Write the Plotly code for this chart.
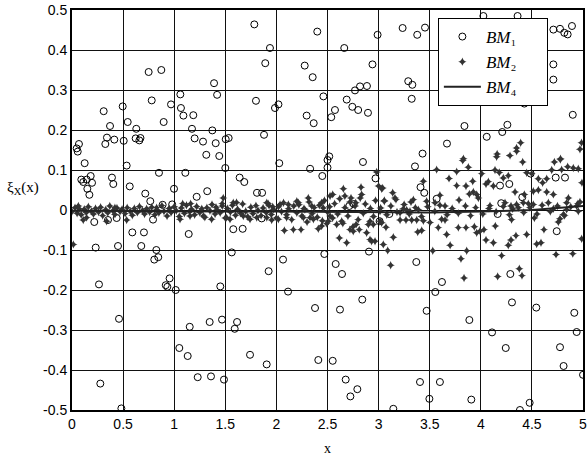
import plotly.graph_objects as go

# ---- data ----
x_ticks = [0, 0.5, 1, 1.5, 2, 2.5, 3, 3.5, 4, 4.5, 5]
x_tick_labels = ["0", "0.5", "1", "1.5", "2", "2.5", "3", "3.5", "4", "4.5", "5"]
y_ticks = [0.5, 0.4, 0.3, 0.2, 0.1, 0, -0.1, -0.2, -0.3, -0.4, -0.5]
y_tick_labels = ["0.5", "0.4", "0.3", "0.2", "0.1", "0", "-0.1", "-0.2", "-0.3", "-0.4", "-0.5"]
series_names = ["<i>BM</i>\u2081", "<i>BM</i>\u2082", "<i>BM</i>\u2084"]

bm1_points = [
    (0.75, 0.345), (0.874, 0.35), (0.78, 0.274), (0.969, 0.264), (1.06, 0.289), (1.066, 0.255),
    (1.09, 0.236), (1.187, 0.237), (1.174, 0.203), (1.2, 0.179), (0.31, 0.247), (0.496, 0.259),
    (0.372, 0.21), (0.545, 0.22), (0.629, 0.203), (0.897, 0.22), (0.342, 0.181), (0.414, 0.176),
    (0.326, 0.165), (0.506, 0.173), (0.623, 0.179), (0.659, 0.174), (0.67, 0.18), (0.068, 0.165),
    (0.046, 0.154), (0.056, 0.146),
    (1.784, 0.464), (1.937, 0.405), (1.891, 0.367), (2.4, 0.446), (2.664, 0.405), (2.99, 0.438),
    (2.94, 0.364), (2.277, 0.361), (2.355, 0.332), (1.39, 0.317), (1.42, 0.288), (1.8, 0.273),
    (1.986, 0.255), (2.02, 0.264), (2.46, 0.284), (2.688, 0.276), (2.769, 0.299), (2.818, 0.309),
    (2.886, 0.31), (2.743, 0.258), (2.8, 0.25), (2.896, 0.243), (2.573, 0.25), (2.537, 0.232),
    (2.296, 0.236), (2.365, 0.217), (1.282, 0.171), (1.373, 0.199), (1.406, 0.167), (1.504, 0.177),
    (1.533, 0.18), (1.879, 0.188), (1.314, 0.138), (1.441, 0.135), (2.517, 0.134), (2.5, 0.125),
    (2.847, 0.12),
    (3.235, 0.455), (3.378, 0.438), (3.454, 0.456), (4.025, 0.485), (4.36, 0.485), (4.775, 0.453),
    (4.817, 0.443), (4.85, 0.439), (4.892, 0.46), (4.71, 0.451), (3.29, 0.322), (3.33, 0.313),
    (3.324, 0.278), (4.71, 0.364), (4.71, 0.326), (4.426, 0.266), (4.9, 0.238), (3.84, 0.21),
    (4.26, 0.213), (4.21, 0.195), (4.058, 0.183), (3.669, 0.166), (3.43, 0.141),
    (0.124, 0.117), (0.535, 0.111), (0.851, 0.093), (1.109, 0.093), (0.091, 0.076), (0.11, 0.07),
    (0.144, 0.076), (0.183, 0.085), (0.196, 0.068), (0.15, 0.053), (0.17, 0.038), (0.391, 0.081),
    (0.404, 0.065), (0.565, 0.059), (0.717, 0.041), (0.766, 0.022), (0.998, 0.053), (1.22, 0.033),
    (0.887, 0.013), (0.98, 0.014), (0.793, -0.024), (0.218, -0.03), (0.352, -0.025), (0.437, -0.02),
    (0.59, -0.056), (0.704, -0.056), (1.142, -0.06), (0.232, -0.094), (0.45, -0.09), (0.678, -0.09),
    (0.825, -0.1), (0.805, -0.124), (0.844, -0.118), (0.264, -0.186), (0.917, -0.188),
    (0.933, -0.192), (0.955, -0.171), (1.015, -0.2),
    (1.5, 0.105), (2.028, 0.117), (2.33, 0.103), (2.5, 0.106), (2.449, 0.085), (2.97, 0.079),
    (1.323, 0.047), (1.64, 0.081), (1.686, 0.07), (1.81, 0.043), (1.86, 0.043), (2.713, 0.01),
    (2.756, 0.015), (1.856, -0.021), (1.578, -0.048), (1.67, -0.047), (3.01, -0.028),
    (1.563, -0.106), (2.065, -0.124), (2.469, -0.11), (2.906, -0.104), (2.58, -0.135),
    (2.642, -0.16), (1.924, -0.153), (1.451, -0.191), (2.114, -0.204), (2.84, -0.224),
    (2.378, -0.245), (2.622, -0.249),
    (3.356, 0.109), (3.41, 0.057), (3.447, 0.043), (3.568, 0.028), (4.188, 0.061), (4.279, 0.065),
    (4.406, 0.032), (4.2, 0.017), (4.488, 0.091), (4.733, 0.081), (4.824, 0.081), (4.165, -0.01),
    (3.105, -0.01), (4.743, -0.053), (3.369, -0.13), (4.289, -0.16), (3.62, -0.18), (3.555, -0.205),
    (4.305, -0.231), (4.543, -0.244),
    (0.46, -0.272), (1.152, -0.292), (1.05, -0.345), (1.132, -0.365), (1.23, -0.418),
    (0.277, -0.434), (0.483, -0.496),
    (1.347, -0.28), (1.468, -0.274), (1.615, -0.28), (1.592, -0.297), (1.742, -0.362),
    (1.905, -0.386), (1.36, -0.416), (1.487, -0.424), (2.41, -0.375), (2.551, -0.377),
    (2.678, -0.424), (2.792, -0.448), (2.724, -0.466),
    (3.47, -0.252), (3.888, -0.275), (4.915, -0.257), (4.938, -0.305), (4.11, -0.306),
    (4.244, -0.345), (4.775, -0.343), (4.81, -0.39), (5.0, -0.412), (3.405, -0.43), (3.6, -0.43),
    (3.497, -0.472), (3.907, -0.474), (4.478, -0.482), (4.383, -0.5), (3.144, -0.497),
]

# BM2: dense band close to zero
bm2_band = [
    (0.00, -0.004), (0.03, 0.006), (0.05, -0.008), (0.07, 0.003), (0.09, -0.012), (0.12, 0.002),
    (0.14, -0.006), (0.16, 0.008), (0.19, -0.003), (0.21, -0.010), (0.23, 0.004), (0.26, -0.005),
    (0.28, 0.007), (0.30, -0.014), (0.33, 0.001), (0.35, -0.007), (0.37, 0.010), (0.40, -0.002),
    (0.42, -0.011), (0.44, 0.005), (0.47, -0.004), (0.49, 0.002), (0.52, -0.009), (0.54, 0.006),
    (0.57, -0.003), (0.59, -0.013), (0.61, 0.004), (0.64, -0.006), (0.66, 0.009), (0.69, -0.001),
    (0.71, -0.010), (0.73, 0.003), (0.76, -0.005), (0.78, 0.007), (0.81, -0.012), (0.83, 0.001),
    (0.85, -0.007), (0.88, 0.011), (0.90, -0.003), (0.93, -0.015), (0.95, 0.004), (0.97, -0.006),
    (1.00, 0.008), (1.02, -0.002), (1.05, -0.016), (1.07, 0.005), (1.10, -0.008), (1.12, 0.012),
    (1.15, -0.004), (1.17, 0.002), (1.20, -0.012), (1.22, 0.009), (1.25, -0.006), (1.27, 0.003),
    (1.30, -0.018), (1.32, 0.006), (1.35, -0.002), (1.37, 0.014), (1.40, -0.010), (1.42, 0.001),
    (1.45, -0.007), (1.47, 0.010), (1.50, -0.020), (1.52, 0.004), (1.55, -0.005), (1.57, 0.012),
    (1.60, -0.013), (1.62, 0.002), (1.65, -0.008), (1.67, 0.015), (1.70, -0.003), (1.72, -0.017),
    (1.75, 0.007), (1.77, -0.009), (1.80, 0.011), (1.82, -0.001), (1.85, -0.014), (1.87, 0.005),
    (1.90, -0.006), (1.92, 0.016), (1.95, -0.011), (1.97, 0.002), (2.00, -0.020), (2.02, 0.008),
    (2.05, -0.004), (2.07, 0.018), (2.10, -0.012), (2.12, 0.003), (2.15, -0.024), (2.17, 0.010),
    (2.20, -0.007), (2.22, 0.013), (2.25, -0.015), (2.27, 0.004), (2.30, -0.030), (2.32, 0.020),
    (2.35, -0.009), (2.37, 0.006), (2.40, -0.018), (2.42, 0.012), (2.45, -0.027), (2.47, 0.024),
    (2.50, -0.005), (2.52, 0.008), (2.55, -0.020), (2.57, 0.016), (2.60, -0.010), (2.62, 0.028),
    (2.65, -0.033), (2.67, 0.006), (2.70, -0.015), (2.72, 0.020), (2.75, -0.042), (2.77, 0.010),
    (2.80, -0.024), (2.82, 0.030), (2.85, -0.008), (2.87, 0.015), (2.90, -0.036), (2.92, 0.004),
    (2.95, -0.016), (2.97, 0.024),
    (3.02, 0.005), (3.08, -0.012), (3.12, 0.010), (3.18, -0.005), (3.25, 0.014), (3.30, -0.010),
    (3.36, 0.006), (3.42, -0.016), (3.48, 0.008), (3.55, -0.003), (3.60, 0.012), (3.67, -0.012),
    (3.72, 0.004), (3.78, -0.008), (3.85, 0.010), (3.90, -0.014), (3.95, 0.006), (4.02, -0.010),
    (4.08, 0.004), (4.15, -0.004), (4.22, 0.009), (4.28, -0.012), (4.35, 0.014), (4.42, -0.006),
    (4.48, 0.006), (4.55, -0.010), (4.60, 0.012), (4.68, -0.004), (4.75, 0.010), (4.82, -0.014),
    (4.88, 0.008), (4.95, 0.016),
]

# BM2: scattered points that leave the band
bm2_spread = [
    (0.11, -0.025), (0.013, -0.086), (0.062, 0.01), (0.42, 0.006), (1.083, 0.016), (1.161, 0.016),
    (0.828, 0.006), (0.535, -0.025), (0.339, -0.028), (1.057, -0.023), (0.143, -0.019),
    (2.981, 0.095), (3.0, 0.06), (3.03, 0.053), (3.056, 0.024), (2.828, 0.057), (2.834, 0.039),
    (2.655, 0.053), (2.73, 0.03), (2.551, 0.039), (2.525, 0.035), (2.67, 0.035), (2.776, 0.018),
    (2.312, 0.03), (2.2, 0.022), (2.215, 0.018), (2.117, 0.014), (2.036, 0.014), (1.906, 0.018),
    (1.928, 0.011), (1.964, 0.008), (1.48, 0.03), (1.47, 0.016), (1.578, 0.018), (1.61, 0.019),
    (1.409, 0.007), (2.443, 0.018), (2.459, 0.005), (2.346, 0.01), (2.279, 0.001),
    (2.525, -0.015), (2.59, -0.036), (2.639, -0.028), (2.616, -0.07), (2.688, -0.082),
    (2.78, -0.036), (2.72, -0.049), (2.752, -0.053), (2.811, -0.049), (2.883, -0.057),
    (2.916, -0.074), (2.932, -0.078), (2.965, -0.078), (2.916, -0.028), (2.948, -0.036),
    (2.078, -0.051), (2.166, -0.049), (2.241, -0.049), (2.264, -0.019), (2.329, -0.019),
    (2.362, -0.023), (2.41, -0.047), (2.443, -0.04), (2.492, -0.034), (2.508, -0.028),
    (2.1, -0.019), (2.019, -0.023), (1.954, -0.025), (1.906, -0.019), (1.808, -0.019),
    (1.742, -0.023), (1.676, -0.015), (1.546, -0.023), (1.513, -0.019), (1.366, -0.023),
    (1.285, -0.015), (1.155, -0.015),
    (4.155, 0.133), (4.286, 0.136), (4.351, 0.147), (4.41, 0.12), (4.72, 0.12), (4.778, 0.126),
    (3.823, 0.124), (3.878, 0.107), (3.568, 0.101), (3.764, 0.096), (4.009, 0.091), (4.139, 0.1),
    (4.181, 0.094), (4.22, 0.08), (4.269, 0.086), (4.449, 0.093), (4.498, 0.091), (4.563, 0.078),
    (4.605, 0.068), (4.645, 0.078), (4.694, 0.1), (4.791, 0.101), (4.85, 0.108), (4.905, 0.105),
    (4.954, 0.103), (4.99, 0.068), (3.689, 0.079), (3.764, 0.061), (3.855, 0.06), (3.921, 0.072),
    (4.051, 0.065), (4.074, 0.071), (4.123, 0.06), (4.335, 0.045), (4.426, 0.039), (4.416, 0.018),
    (4.514, 0.047), (4.563, 0.05), (4.645, 0.045), (4.71, 0.039), (4.857, 0.03), (4.84, 0.018),
    (4.938, 0.01), (4.97, 0.02), (3.438, 0.072), (3.34, 0.026), (3.317, 0.02), (3.16, 0.03),
    (3.17, 0.026), (3.138, 0.043), (3.056, 0.022), (3.04, 0.055), (3.47, 0.022), (3.6, 0.037),
    (3.552, 0.018), (3.65, 0.01), (3.787, 0.025), (3.888, 0.04), (3.927, 0.045), (3.96, 0.039),
    (3.976, 0.03), (4.09, 0.011), (4.237, 0.018), (4.296, 0.01), (4.368, 0.006), (4.465, 0.016),
    (4.514, 0.014), (4.661, 0.018), (4.71, 0.003), (4.84, 0.001), (4.954, -0.003),
    (4.524, -0.02), (4.775, -0.022), (4.808, -0.011), (4.759, -0.03), (4.302, -0.024),
    (4.142, -0.04), (4.312, 0.003), (3.21, -0.007), (3.242, 0.003), (3.275, 0.0), (3.307, -0.003),
    (3.389, 0.001), (3.21, -0.025), (3.268, -0.025), (3.324, -0.025), (3.373, -0.025),
    (3.438, -0.027), (3.503, -0.031), (3.584, -0.044), (3.617, -0.023), (3.65, -0.025),
    (3.78, -0.044), (3.855, -0.044), (3.937, -0.042), (3.96, -0.057), (3.992, -0.053),
    (4.031, -0.049), (3.383, -0.055), (3.422, -0.051), (3.014, -0.028), (3.03, -0.032),
    (3.072, -0.043), (3.144, -0.068), (3.046, -0.086), (3.089, -0.101), (3.118, -0.138),
    (3.53, -0.102), (3.7, -0.088), (3.666, -0.061), (3.806, -0.122), (3.862, -0.102),
    (4.051, -0.075), (4.123, -0.082), (4.269, -0.088), (4.296, -0.075), (4.344, -0.064),
    (4.449, -0.061), (4.547, -0.085), (4.589, -0.082), (4.618, -0.049), (4.736, -0.111),
    (4.9, -0.109), (4.987, -0.072), (4.204, -0.114), (3.836, -0.17), (4.165, -0.166),
    (4.377, -0.147), (4.403, -0.164), (3.014, -0.003),
    (4.39, 0.168), (4.35, 0.155), (4.16, 0.14), (4.986, 0.168), (4.97, 0.152), (4.78, 0.128),
    (3.83, 0.128),
]

bm4_x = [0, 0.5, 1, 1.5, 2, 2.5, 3, 3.5, 4, 4.5, 5]
bm4_y = [-0.002, -0.003, -0.004, -0.004, -0.004, -0.005, -0.006, -0.006, -0.004, 0.0, 0.01]

bm1_x = [p[0] for p in bm1_points]
bm1_y = [p[1] for p in bm1_points]
bm2_all = bm2_band + bm2_spread
bm2_x = [p[0] for p in bm2_all]
bm2_y = [p[1] for p in bm2_all]

pad = "\u00a0" * 6  # widens the legend box like the reference

fig = go.Figure()
fig.add_trace(go.Scatter(
    x=bm1_x, y=bm1_y, mode="markers", name=series_names[0] + pad,
    marker=dict(symbol="circle-open", size=7, color="black", line=dict(width=1, color="black")),
))
fig.add_trace(go.Scatter(
    x=bm2_x, y=bm2_y, mode="markers", name=series_names[1] + pad,
    marker=dict(symbol="star-diamond", size=6, color="#333333", line=dict(width=0)),
))
fig.add_trace(go.Scatter(
    x=bm4_x, y=bm4_y, mode="lines", name=series_names[2] + pad,
    line=dict(color="#222222", width=2),
))

axis_common = dict(
    showgrid=True, gridcolor="#111111", gridwidth=1,
    showline=True, linecolor="black", linewidth=2, mirror=True,
    ticks="", zeroline=False, automargin=False, ticklabeloverflow="allow",
    tickfont=dict(family="Liberation Sans, Arial, sans-serif", size=14, color="black"),
)

fig.update_layout(
    width=587, height=459,
    margin=dict(l=72, r=4, t=10, b=49),
    paper_bgcolor="white", plot_bgcolor="white",
    showlegend=True,
    legend=dict(
        x=0.716, y=0.98, xanchor="left", yanchor="top",
        bgcolor="white", bordercolor="black", borderwidth=1,
        font=dict(family="Liberation Serif, Times New Roman, serif", size=17, color="black"),
        tracegroupgap=0, itemwidth=37,
    ),
    xaxis=dict(range=[0, 5], tickvals=x_ticks, ticktext=x_tick_labels, **axis_common),
    yaxis=dict(range=[-0.5, 0.5], tickvals=y_ticks, ticktext=y_tick_labels, **axis_common),
    annotations=[
        dict(text="ξ<sub>X</sub>(x)", xref="paper", yref="paper", x=-0.095, y=0.555,
             showarrow=False, xanchor="center", yanchor="middle",
             font=dict(family="Liberation Serif, Times New Roman, serif", size=15, color="black")),
        dict(text="x", xref="paper", yref="paper", x=0.5, y=-0.095,
             showarrow=False, xanchor="center", yanchor="middle",
             font=dict(family="Liberation Serif, Times New Roman, serif", size=14, color="black")),
    ],
)

fig.write_html(
    "out.html",
    config={"displayModeBar": False},
    post_script="document.body.style.margin='0';document.body.style.padding='0';",
)
